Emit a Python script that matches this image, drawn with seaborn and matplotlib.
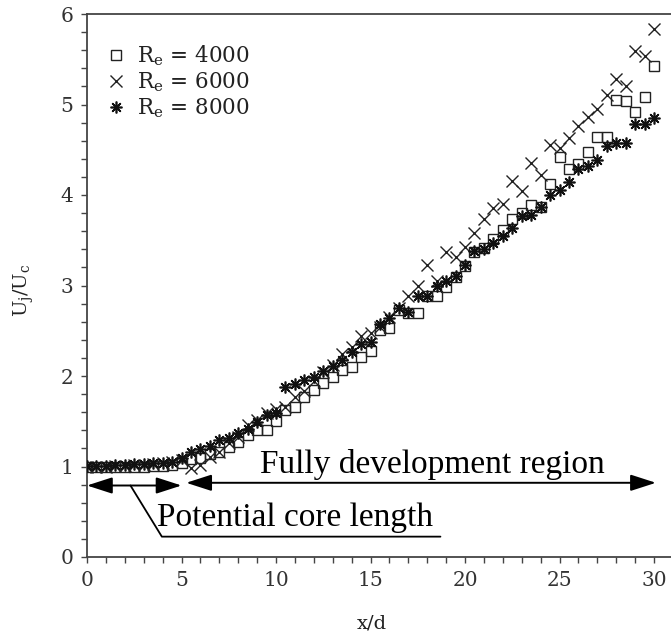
import matplotlib
matplotlib.use("Agg")
import matplotlib.pyplot as plt
import seaborn as sns
import pandas as pd
from matplotlib.ticker import MultipleLocator

sns.set_theme(style="ticks")
plt.rcParams['font.family'] = ['DejaVu Serif']
plt.rcParams['mathtext.fontset'] = 'dejavuserif'

x_d = [0.0, 0.5, 1.0, 1.5, 2.0, 2.5, 3.0, 3.5, 4.0, 4.5,
       5.0, 5.5, 6.0, 6.5, 7.0, 7.5, 8.0, 8.5, 9.0, 9.5,
       10.0, 10.5, 11.0, 11.5, 12.0, 12.5, 13.0, 13.5, 14.0, 14.5,
       15.0, 15.5, 16.0, 16.5, 17.0, 17.5, 18.0, 18.5, 19.0, 19.5,
       20.0, 20.5, 21.0, 21.5, 22.0, 22.5, 23.0, 23.5, 24.0, 24.5,
       25.0, 25.5, 26.0, 26.5, 27.0, 27.5, 28.0, 28.5, 29.0, 29.5, 30.0]

re4000 = [1.00, 1.00, 1.00, 1.00, 1.00, 1.00, 1.00, 1.01, 1.01, 1.02,
          1.04, 1.08, 1.09, 1.14, 1.16, 1.22, 1.27, 1.35, 1.40, 1.40,
          1.50, 1.62, 1.66, 1.77, 1.85, 1.92, 1.99, 2.07, 2.10, 2.21,
          2.28, 2.51, 2.53, 2.73, 2.70, 2.70, 2.88, 2.88, 2.98, 3.09,
          3.22, 3.37, 3.41, 3.51, 3.61, 3.73, 3.80, 3.89, 3.87, 4.12,
          4.42, 4.29, 4.34, 4.48, 4.64, 4.64, 5.05, 5.04, 4.92, 5.08, 5.42]

re6000 = [1.00, 1.00, 1.00, 1.01, 1.01, 1.02, 1.02, 1.03, 1.04, 1.05,
          1.07, 0.98, 1.02, 1.10, 1.16, 1.26, 1.33, 1.46, 1.51, 1.59,
          1.64, 1.66, 1.77, 1.83, 1.94, 2.04, 2.12, 2.24, 2.32, 2.44,
          2.48, 2.54, 2.65, 2.75, 2.88, 2.99, 3.23, 3.05, 3.37, 3.31,
          3.43, 3.58, 3.74, 3.86, 3.90, 4.15, 4.04, 4.35, 4.22, 4.55,
          4.52, 4.63, 4.76, 4.86, 4.95, 5.10, 5.28, 5.20, 5.59, 5.54, 5.83]

re8000 = [1.01, 1.01, 1.01, 1.02, 1.02, 1.03, 1.03, 1.04, 1.04, 1.05,
          1.09, 1.16, 1.19, 1.23, 1.29, 1.31, 1.37, 1.41, 1.49, 1.57,
          1.59, 1.88, 1.91, 1.96, 1.99, 2.05, 2.11, 2.18, 2.27, 2.35,
          2.38, 2.57, 2.64, 2.75, 2.71, 2.88, 2.88, 2.99, 3.05, 3.10,
          3.23, 3.38, 3.40, 3.47, 3.55, 3.64, 3.77, 3.78, 3.87, 4.00,
          4.06, 4.14, 4.29, 4.32, 4.39, 4.54, 4.58, 4.58, 4.78, 4.78, 4.85]

labels = ["R$_\\mathrm{e}$ = 4000", "R$_\\mathrm{e}$ = 6000", "R$_\\mathrm{e}$ = 8000"]

fig = plt.figure(figsize=(6.71, 6.39), dpi=100)
ax = fig.add_axes([87/671, 82/639, 584/671, 543/639])

df4 = pd.DataFrame({"x": x_d, "y": re4000})
df6 = pd.DataFrame({"x": x_d, "y": re6000})
df8 = pd.DataFrame({"x": x_d, "y": re8000})

sns.lineplot(data=df4, x="x", y="y", ax=ax, marker="s", linestyle="", color="black",
             markerfacecolor="none", markeredgecolor="#222222", markersize=7.4,
             markeredgewidth=1.0, label=labels[0], zorder=3)
sns.lineplot(data=df6, x="x", y="y", ax=ax, marker="x", linestyle="", color="#222222",
             markeredgecolor="#222222", markersize=8.5, markeredgewidth=1.0,
             label=labels[1], zorder=3)
sns.lineplot(data=df8, x="x", y="y", ax=ax, marker=(8, 2, 0), linestyle="", color="#111111",
             markeredgecolor="#111111", markersize=8.5, markeredgewidth=1.2,
             label=labels[2], zorder=3)

ax.set_xlim(0, 584/18.9)
ax.set_ylim(0, 6)
ax.xaxis.set_major_locator(MultipleLocator(5))
ax.xaxis.set_minor_locator(MultipleLocator(1))
ax.yaxis.set_major_locator(MultipleLocator(1))
ax.yaxis.set_minor_locator(MultipleLocator(0.2))
ax.tick_params(which="both", direction="out", length=4, width=1.0, color="#444444",
               labelsize=14.5, labelcolor="#333333", pad=6)
for s in ["left", "bottom", "top"]:
    ax.spines[s].set_linewidth(1.3)
    ax.spines[s].set_color("#444444")
ax.spines["right"].set_visible(False)

ax.set_xlabel("x/d", fontsize=14, color="#222222")
ax.set_ylabel("U$_\\mathrm{j}$/U$_\\mathrm{c}$", fontsize=14, color="#222222")
ax.xaxis.set_label_coords((372-87)/584, -(614-557)/543)
ax.yaxis.set_label_coords(-(87-36)/584, (557-290)/543)

leg = ax.legend(loc="upper left", bbox_to_anchor=(0.02, 0.962), frameon=False,
                fontsize=15.5, handlelength=0.8, handletextpad=0.6, labelspacing=0.12,
                borderaxespad=0)
for t in leg.get_texts():
    t.set_color("#222222")

# annotations
ann_font = ["Liberation Serif", "DejaVu Serif"]
ax.text(9.13, 0.93, "Fully development region", fontsize=24, family=ann_font,
        va="baseline", ha="left", color="black")
ax.text(3.73, 0.34, "Potential core length", fontsize=24, family=ann_font,
        va="baseline", ha="left", color="black")

arrow_kw = dict(arrowstyle="<|-|>,head_length=1.3,head_width=0.42", color="black",
                lw=1.4, shrinkA=0, shrinkB=0)
ax.annotate("", xy=(5.0, 0.79), xytext=(0.0, 0.79), arrowprops=arrow_kw)
ax.annotate("", xy=(30.1, 0.82), xytext=(5.25, 0.82), arrowprops=arrow_kw)
ax.plot([2.3, 3.96, 18.7], [0.79, 0.225, 0.225], color="black", lw=1.3, clip_on=False)

fig.savefig("out.png", dpi=100)
